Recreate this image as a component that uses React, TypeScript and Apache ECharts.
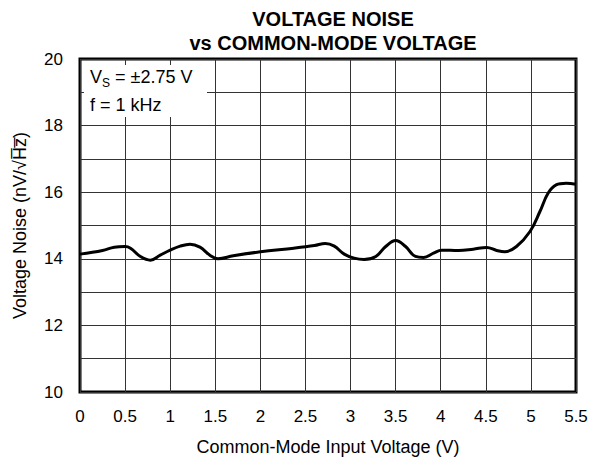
import React, { useEffect, useRef } from "react";
import * as echarts from "echarts";

const xValues = [0, 0.25, 0.38, 0.5, 0.56, 0.67, 0.78, 0.89, 1.0, 1.11, 1.22, 1.33, 1.44, 1.53, 1.7, 2.0, 2.37, 2.6, 2.72, 2.82, 2.93, 3.04, 3.15, 3.28, 3.39, 3.5, 3.61, 3.72, 3.81, 3.92, 4.01, 4.2, 4.36, 4.51, 4.62, 4.71, 4.84, 4.99, 5.1, 5.19, 5.28, 5.39, 5.5];
const noiseValues = [14.14, 14.25, 14.35, 14.37, 14.32, 14.07, 13.96, 14.11, 14.26, 14.38, 14.44, 14.35, 14.11, 14.0, 14.09, 14.21, 14.32, 14.4, 14.46, 14.38, 14.14, 14.02, 13.98, 14.07, 14.37, 14.55, 14.37, 14.07, 14.04, 14.17, 14.26, 14.25, 14.29, 14.34, 14.25, 14.21, 14.37, 14.82, 15.42, 15.97, 16.22, 16.27, 16.24];

const titleText = "VOLTAGE NOISE\nvs COMMON-MODE VOLTAGE";
const xName = "Common-Mode Input Voltage (V)";
const yName = "Voltage Noise (nV/\u221AH\u0305z\u0305)";
const FONT = "'Liberation Sans', Arial, Helvetica, sans-serif";

export default function App() {
  const ref = useRef<HTMLDivElement>(null);
  useEffect(() => {
    if (!ref.current) return;
    const chart = echarts.init(ref.current, undefined, { renderer: "svg" });
    const data = xValues.map((x, i) => [x, noiseValues[i]]);
    chart.setOption({
      animation: false,
      backgroundColor: "#fff",
      textStyle: { fontFamily: FONT, color: "#000" },
      title: {
        text: titleText,
        left: 328,
        top: 2,
        textAlign: "center",
        textStyle: { fontFamily: FONT, fontSize: 20, fontWeight: "bold", color: "#000", lineHeight: 24 },
      },
      grid: {
        left: 80,
        right: 15,
        top: 59,
        bottom: 70,
        show: true,
        borderColor: "#000",
        borderWidth: 3,
        backgroundColor: "transparent",
      },
      xAxis: {
        type: "value",
        min: 0,
        max: 5.5,
        interval: 0.5,
        name: xName,
        nameLocation: "middle",
        nameGap: 46,
        nameTextStyle: { fontFamily: FONT, fontSize: 18, color: "#000" },
        axisLine: { show: false },
        axisTick: { show: false },
        axisLabel: { fontFamily: FONT, fontSize: 17, color: "#000", margin: 16 },
        splitLine: { show: true, lineStyle: { color: "#333", width: 1 } },
      },
      yAxis: {
        type: "value",
        min: 10,
        max: 20,
        interval: 1,
        name: yName,
        nameLocation: "middle",
        nameGap: 51,
        nameTextStyle: { fontFamily: FONT, fontSize: 18, color: "#000" },
        axisLine: { show: false },
        axisTick: { show: false },
        axisLabel: {
          fontFamily: FONT,
          fontSize: 17,
          color: "#000",
          margin: 17,
          formatter: (v: number) => (v % 2 === 0 ? String(v) : ""),
        },
        splitLine: { show: true, lineStyle: { color: "#333", width: 1 } },
      },
      graphic: [
        {
          type: "rect",
          z: 5,
          shape: { x: 84, y: 65, width: 123, height: 52 },
          style: { fill: "#fff" },
        },
        {
          type: "text",
          z: 6,
          x: 90,
          y: 68,
          style: { text: "V", fontFamily: FONT, fontSize: 18, fill: "#000" },
        },
        {
          type: "text",
          z: 6,
          x: 102,
          y: 77,
          style: { text: "S", fontFamily: FONT, fontSize: 12, fill: "#000" },
        },
        {
          type: "text",
          z: 6,
          x: 115,
          y: 68,
          style: { text: "= \u00B12.75 V", fontFamily: FONT, fontSize: 18, fill: "#000" },
        },
        {
          type: "text",
          z: 6,
          x: 90,
          y: 96,
          style: { text: "f = 1 kHz", fontFamily: FONT, fontSize: 18, fill: "#000" },
        },
      ],
      series: [
        {
          type: "line",
          data,
          smooth: 0.4,
          symbol: "none",
          lineStyle: { color: "#000", width: 3 },
          z: 10,
        },
      ],
    });
    return () => chart.dispose();
  }, []);
  return <div ref={ref} style={{ position: "fixed", left: 0, top: 0, width: 591, height: 462 }} />;
}
